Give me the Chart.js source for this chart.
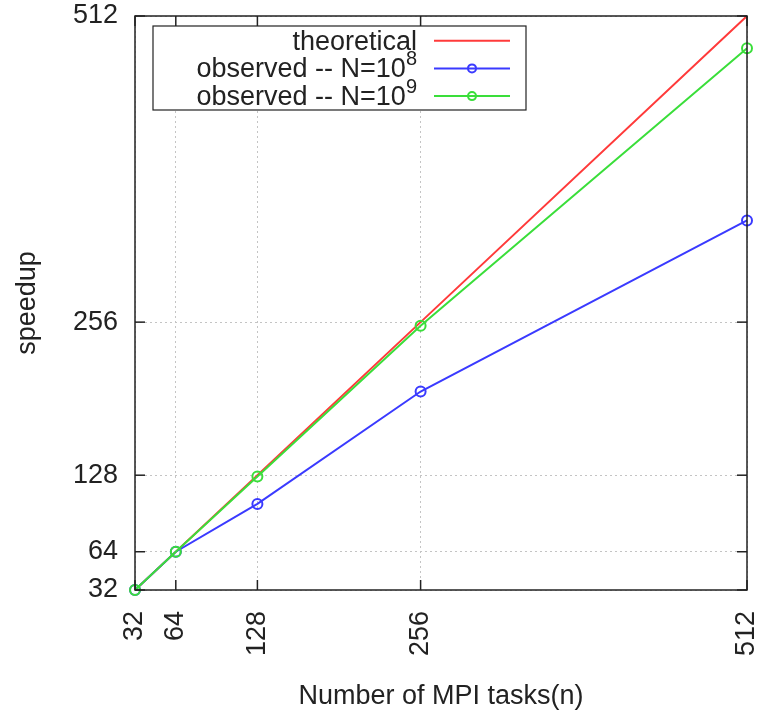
<!DOCTYPE html>
<html>
<head>
<meta charset="utf-8">
<script src="https://cdn.jsdelivr.net/npm/chart.js@4/dist/chart.umd.min.js"></script>
<style>
  html, body { margin: 0; padding: 0; background: #fff; }
  #wrap { width: 757px; height: 715px; }
</style>
</head>
<body>
<div id="wrap"><canvas id="grafico" width="757" height="715"></canvas></div>
<script>
const tasks = [32, 64, 128, 256, 512];
const theoretical = [32, 64, 128, 256, 512];
const observedN8 = [32, 64, 104, 198, 341];
const observedN9 = [32, 64, 127, 253, 485];
const tickValues = [32, 64, 128, 256, 512];

const FONT = "'Liberation Sans', Arial, sans-serif";
const INK = '#222';

function pontos(valores) {
    return tasks.map((t, i) => ({ x: t, y: valores[i] }));
}

// frame, inward ticks (gnuplot style) and the key box
const molduraELegenda = {
    id: 'molduraELegenda',
    afterDatasetsDraw(chart) {
        const { ctx, chartArea: a, scales: { x, y } } = chart;
        ctx.save();
        ctx.strokeStyle = INK;
        ctx.lineWidth = 1.5;

        function linha(x1, y1, x2, y2) {
            ctx.beginPath();
            ctx.moveTo(x1, y1);
            ctx.lineTo(x2, y2);
            ctx.stroke();
        }

        tickValues.forEach(v => {
            const px = x.getPixelForValue(v);
            const py = y.getPixelForValue(v);
            linha(px, a.bottom, px, a.bottom - 10);
            linha(px, a.top, px, a.top + 10);
            linha(a.left, py, a.left + 10, py);
            linha(a.right, py, a.right - 10, py);
        });
        ctx.strokeRect(a.left, a.top, a.right - a.left, a.bottom - a.top);

        // key
        const boxL = a.left + 18, boxT = a.top + 10, boxW = 373, boxH = 84;
        ctx.fillStyle = '#fff';
        ctx.fillRect(boxL, boxT, boxW, boxH);
        ctx.lineWidth = 1.2;
        ctx.strokeRect(boxL, boxT, boxW, boxH);

        const textoDireita = boxL + 264;
        const amostraIni = boxL + 281, amostraFim = boxL + 357;

        chart.data.datasets.forEach((ds, i) => {
            const rowY = boxT + 14.7 + i * 27.7;
            const [base, expoente] = ds.label.split('^');
            ctx.font = '27px ' + FONT;
            const wBase = ctx.measureText(base).width;
            ctx.font = '20px ' + FONT;
            const wExp = expoente ? ctx.measureText(expoente).width : 0;

            ctx.fillStyle = INK;
            ctx.textAlign = 'left';
            ctx.textBaseline = 'alphabetic';
            const x0 = textoDireita - wBase - wExp;
            ctx.font = '27px ' + FONT;
            ctx.fillText(base, x0, rowY + 9);
            if (expoente) {
                ctx.font = '20px ' + FONT;
                ctx.fillText(expoente, x0 + wBase, rowY - 3);
            }

            ctx.strokeStyle = ds.borderColor;
            ctx.lineWidth = 2;
            linha(amostraIni, rowY, amostraFim, rowY);
            if (ds.pointRadius > 0) {
                ctx.beginPath();
                ctx.arc((amostraIni + amostraFim) / 2, rowY, 4, 0, Math.PI * 2);
                ctx.stroke();
            }
        });
        ctx.restore();
    }
};

const ctx = document.getElementById('grafico').getContext('2d');
new Chart(ctx, {
    type: 'line',
    data: {
        datasets: [
            {
                label: 'theoretical',
                data: pontos(theoretical),
                borderColor: '#ff3a3a',
                borderWidth: 2,
                pointRadius: 0,
                order: 3,
                clip: false
            },
            {
                label: 'observed -- N=10^8',
                data: pontos(observedN8),
                borderColor: '#3a3aff',
                borderWidth: 2,
                pointRadius: 5,
                pointBorderWidth: 2,
                pointBackgroundColor: 'rgba(0,0,0,0)',
                pointBorderColor: '#3a3aff',
                order: 2,
                clip: false
            },
            {
                label: 'observed -- N=10^9',
                data: pontos(observedN9),
                borderColor: '#3ade3a',
                borderWidth: 2,
                pointRadius: 5,
                pointBorderWidth: 2,
                pointBackgroundColor: 'rgba(0,0,0,0)',
                pointBorderColor: '#3ade3a',
                order: 1,
                clip: false
            }
        ]
    },
    options: {
        responsive: false,
        animation: false,
        events: [],
        layout: { padding: { top: 16, right: 10, left: 0, bottom: 0 } },
        plugins: {
            legend: { display: false },
            tooltip: { enabled: false }
        },
        scales: {
            x: {
                type: 'linear',
                min: 32,
                max: 512,
                afterBuildTicks: scale => { scale.ticks = tickValues.map(v => ({ value: v })); },
                afterFit: scale => {
                    scale.height = 125;
                    scale.paddingLeft = 0;
                    scale.paddingRight = 0;
                },
                grid: { color: '#c4c4c4', lineWidth: 1, drawTicks: false },
                border: { display: false, dash: [2, 3] },
                ticks: {
                    autoSkip: false,
                    minRotation: 90,
                    maxRotation: 90,
                    padding: 21,
                    color: INK,
                    font: { family: FONT, size: 27 },
                    callback: v => String(v)
                },
                title: {
                    display: true,
                    text: 'Number of MPI tasks(n)',
                    color: INK,
                    font: { family: FONT, size: 27 },
                    padding: { top: 0, bottom: 2 }
                }
            },
            y: {
                type: 'linear',
                min: 32,
                max: 512,
                afterBuildTicks: scale => { scale.ticks = tickValues.map(v => ({ value: v })); },
                afterFit: scale => {
                    scale.width = 135;
                    scale.paddingTop = 0;
                    scale.paddingBottom = 0;
                },
                grid: { color: '#c4c4c4', lineWidth: 1, drawTicks: false },
                border: { display: false, dash: [2, 3] },
                ticks: {
                    autoSkip: false,
                    padding: 17,
                    color: INK,
                    font: { family: FONT, size: 27 },
                    callback: v => String(v)
                },
                title: {
                    display: true,
                    text: 'speedup',
                    color: INK,
                    font: { family: FONT, size: 27 },
                    padding: { top: 11, bottom: 0 }
                }
            }
        }
    },
    plugins: [molduraELegenda]
});
</script>
</body>
</html>
